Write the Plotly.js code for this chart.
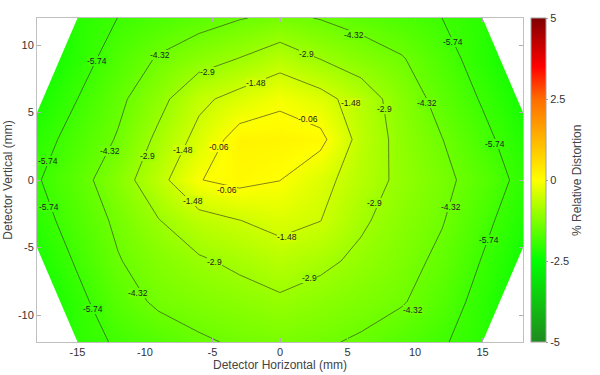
<!DOCTYPE html>
<html>
<head>
<meta charset="utf-8">
<script src="https://cdn.plot.ly/plotly-3.0.1.min.js"></script>
<style>html,body{margin:0;padding:0;background:#fff;}#chart{width:600px;height:375px;}</style>
</head>
<body>
<div id="chart"></div>
<script>
// Detector grid (mm)
const xMm = [-18, -15, -12, -9, -6, -3, 0, 3, 6, 9, 12, 15, 18];
const yMm = [-12, -9, -6, -3, 0, 3, 6, 9, 12];
// % relative distortion, rows follow yMm (bottom to top)
const rowYm12 = [-7.40, -6.20, -5.60, -5.05, -4.50, -4.15, -3.95, -4.15, -4.49, -5.06, -5.63, -6.25, -7.45];
const rowYm9  = [-7.25, -6.08, -4.92, -4.09, -3.75, -3.44, -3.12, -3.44, -3.81, -4.20, -5.06, -6.21, -7.36];
const rowYm6  = [-6.78, -5.59, -4.40, -3.65, -3.07, -2.62, -2.12, -2.60, -3.19, -3.84, -4.62, -5.81, -7.00];
const rowYm3  = [-6.24, -5.16, -4.07, -2.95, -1.98, -1.50, -1.06, -1.46, -2.70, -3.51, -4.24, -5.38, -6.58];
const rowY0   = [-5.85, -4.80, -3.56, -1.95, -0.10, 0.30, -0.04, -1.03, -2.19, -3.22, -3.97, -4.95, -6.13];
const rowY3   = [-6.25, -5.25, -4.21, -2.60, -1.06, 0.55, 0.50, 0.30, -1.98, -3.33, -4.29, -5.39, -6.50];
const rowY6   = [-6.85, -5.74, -4.62, -3.33, -1.78, -1.01, -0.30, -0.98, -2.16, -3.55, -4.78, -5.86, -6.94];
const rowY9   = [-7.33, -6.26, -5.18, -4.20, -3.48, -2.87, -2.13, -2.94, -3.58, -4.22, -5.23, -6.31, -7.39];
const rowY12  = [-7.50, -6.30, -5.73, -5.28, -4.84, -4.39, -4.05, -4.38, -4.84, -5.29, -5.74, -6.30, -7.50];
const distortion = [rowYm12, rowYm9, rowYm6, rowYm3, rowY0, rowY3, rowY6, rowY9, rowY12];

// contour levels
const levelStart = -5.74, levelEnd = -0.06, levelStep = 1.42;
// contour label placement (mm) and their levels
const labelLevel = [-5.74, -5.74, -5.74, -5.74, -5.74, -5.74, -5.74,
  -4.32, -4.32, -4.32, -4.32, -4.32, -4.32, -4.32,
  -2.9, -2.9, -2.9, -2.9, -2.9, -2.9, -2.9,
  -1.48, -1.48, -1.48, -1.48, -1.48,
  -0.06, -0.06, -0.06];
const labelX = [-13.59, -17.16, -17.09, -13.88, 12.79, 15.95, 15.50,
  -8.87, -12.57, -10.50, 5.50, 10.86, 12.67, 9.82,
  -5.36, 1.93, 7.73, -9.79, 7.02, -4.87, 2.17,
  -1.78, 5.26, -7.21, -6.47, 0.54,
  2.04, -4.50, -3.90];
const labelY = [8.79, 1.43, -1.98, -9.53, 10.19, 2.67, -4.42,
  9.28, 2.17, -8.37, 10.76, 5.70, -2.03, -9.66,
  8.00, 9.36, 5.26, 1.80, -1.70, -6.07, -7.29,
  7.19, 5.70, 2.19, -1.59, -4.22,
  4.52, 2.44, -0.72];
// detector outline (octagon)
const detectorX = [-15, 15, 18, 18, 15, -15, -18, -18];
const detectorY = [12, 12, 5, -5, -12, -12, -5, 5];
// axes
const xRange = [-18, 18], yRange = [-12, 12];
const xTicks = [-15, -10, -5, 0, 5, 10, 15];
const yTicks = [-10, -5, 0, 5, 10];
const cbTicks = [-5, -2.5, 0, 2.5, 5];
const cbRange = [-5, 5];
const colorRange = [-15, 15];

const cscale = [[0, '#1f8a1f'], [0.25, '#00ff00'], [0.5, '#ffff00'], [0.75, '#ff6c00'], [0.85, '#ff0000'], [1, '#7f0000']];
const FONT = 'Liberation Sans, Arial, sans-serif';

function hexRgb(h) { return [parseInt(h.substr(1, 2), 16), parseInt(h.substr(3, 2), 16), parseInt(h.substr(5, 2), 16)]; }
function scaleColor(v) {
  let t = (v - colorRange[0]) / (colorRange[1] - colorRange[0]);
  t = Math.max(0, Math.min(1, t));
  for (let i = 1; i < cscale.length; i++) {
    if (t <= cscale[i][0]) {
      const a = hexRgb(cscale[i - 1][1]), b = hexRgb(cscale[i][1]);
      const f = (t - cscale[i - 1][0]) / (cscale[i][0] - cscale[i - 1][0]);
      return 'rgb(' + a.map((c, k) => Math.round(c + (b[k] - c) * f)).join(',') + ')';
    }
  }
  return cscale[cscale.length - 1][1];
}

const traces = [];
traces.push({
  type: 'heatmap', x: xMm, y: yMm, z: distortion, zsmooth: 'best',
  colorscale: cscale, zmin: colorRange[0], zmax: colorRange[1], showscale: false, hoverinfo: 'skip'
});
traces.push({
  type: 'contour', x: xMm, y: yMm, z: distortion, showscale: false, hoverinfo: 'skip',
  contours: {start: levelStart, end: levelEnd, size: levelStep, coloring: 'none', showlabels: false},
  line: {color: 'rgba(40,40,40,0.85)', width: 0.7, smoothing: 0}
});
// white masks outside the detector outline
const corners = [
  [[xRange[0], detectorX[0], detectorX[7]], [yRange[1], detectorY[0], detectorY[7]]],
  [[xRange[1], detectorX[1], detectorX[2]], [yRange[1], detectorY[1], detectorY[2]]],
  [[xRange[1], detectorX[4], detectorX[3]], [yRange[0], detectorY[4], detectorY[3]]],
  [[xRange[0], detectorX[5], detectorX[6]], [yRange[0], detectorY[5], detectorY[6]]]
];
corners.forEach(c => {
  const cx = c[0][0] + (c[0][0] > 0 ? 1 : -1);
  const cy = c[1][0] + (c[1][0] > 0 ? 1 : -1);
  traces.push({type: 'scatter', mode: 'lines', x: [cx, c[0][1], c[0][1], c[0][2], cx, cx], y: [cy, cy, c[1][1], c[1][2], c[1][2], cy],
    fill: 'toself', fillcolor: '#ffffff', line: {width: 0, color: '#ffffff'}, hoverinfo: 'skip', showlegend: false});
});
// colorbar
traces.push({
  type: 'scatter', mode: 'markers', x: [null, null], y: [null, null], showlegend: false, hoverinfo: 'skip',
  marker: {color: cbRange, cmin: cbRange[0], cmax: cbRange[1], colorscale: cscale, showscale: true,
    colorbar: {x: 1.017, xanchor: 'left', xpad: 0, ypad: 0, y: 0.5, yanchor: 'middle', len: 1, thickness: 15,
      outlinewidth: 1, outlinecolor: '#a0a0a0', tickvals: cbTicks, ticktext: cbTicks.map(String),
      ticks: 'outside', ticklen: 2, tickcolor: '#a0a0a0',
      tickfont: {family: FONT, size: 11, color: '#333'}}}
});

const annotations = labelX.map((x, i) => ({
  x: x, y: labelY[i], xref: 'x', yref: 'y', text: String(labelLevel[i]), showarrow: false,
  font: {family: FONT, size: 8.5, color: '#222'}, bgcolor: scaleColor(labelLevel[i]), borderpad: 0, borderwidth: 0
}));
annotations.push({x: 1.111, y: 0.5, xref: 'paper', yref: 'paper', text: '% Relative Distortion', textangle: -90,
  showarrow: false, font: {family: FONT, size: 12, color: '#444'}, xanchor: 'center', yanchor: 'middle'});

const axFont = {family: FONT, size: 11, color: '#333'};
const layout = {
  width: 600, height: 375,
  margin: {l: 37, r: 77, t: 18, b: 33},
  paper_bgcolor: '#ffffff', plot_bgcolor: '#ffffff',
  showlegend: false,
  annotations: annotations,
  xaxis: {range: xRange, tickvals: xTicks, ticktext: xTicks.map(String), showgrid: false, zeroline: false,
    showline: true, mirror: 'ticks', linecolor: '#c0c0c0', linewidth: 1, ticks: 'inside', ticklen: 4, tickcolor: '#b0b0b0',
    tickfont: axFont, automargin: false,
    title: {text: 'Detector Horizontal (mm)', font: {family: FONT, size: 12, color: '#444'}, standoff: 2}},
  yaxis: {range: yRange, tickvals: yTicks, ticktext: yTicks.map(String), showgrid: false, zeroline: false,
    showline: true, mirror: 'ticks', linecolor: '#c0c0c0', linewidth: 1, ticks: 'inside', ticklen: 4, tickcolor: '#b0b0b0',
    tickfont: axFont, automargin: false,
    title: {text: 'Detector Vertical (mm)', font: {family: FONT, size: 12, color: '#444'}, standoff: 2}}
};
Plotly.newPlot('chart', traces, layout, {displayModeBar: false, staticPlot: true});
</script>
</body>
</html>
